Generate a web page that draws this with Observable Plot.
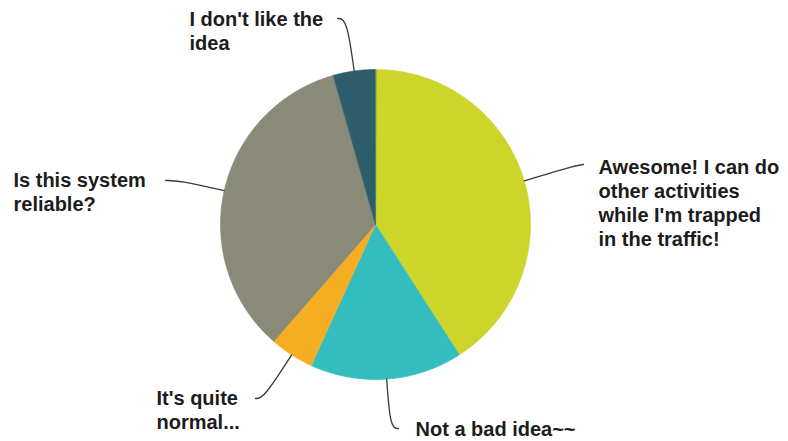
<!DOCTYPE html>
<html>
<head>
<meta charset="utf-8">
<script src="https://cdn.jsdelivr.net/npm/d3@7"></script>
<script src="https://cdn.jsdelivr.net/npm/@observablehq/plot@0.6"></script>
<style>
  html, body { margin: 0; padding: 0; background: #fff; }
  #chart svg { display: block; }
</style>
</head>
<body>
<div id="chart"></div>
<script>
// ---- data ----
const categories = [
  "Awesome! I can do other activities while I'm trapped in the traffic!",
  "Not a bad idea~~",
  "It's quite normal...",
  "Is this system reliable?",
  "I don't like the idea"
];
const values = [40.9, 15.9, 4.6, 34.2, 4.4];
const labelTexts = [
  "Awesome! I can do\nother activities\nwhile I'm trapped\nin the traffic!",
  "Not a bad idea~~",
  "It's quite\nnormal...",
  "Is this system\nreliable?",
  "I don't like the\nidea"
];
const colors = ["#cdd42a", "#33bdbf", "#f5ae21", "#8a8a78", "#2e5e6b"];

// ---- layout (pixels) ----
const W = 788, H = 441;
const cx = 375, cy = 224, R = 155;
const leaderEnds = [[583, 164], [398, 428], [255, 398], [165, 180], [337, 18]];
const textTopLeft = [[598, 156], [415, 418], [156, 387], [13, 169], [189, 8]];

const ux = p => (p - cx) / R;
const uy = p => (cy - p) / R;

// ---- slices from data ----
const total = d3.sum(values);
let acc = 0;
const slices = categories.map((c, i) => {
  const a0 = acc / total * 2 * Math.PI;
  acc += values[i];
  const a1 = acc / total * 2 * Math.PI;
  return {c, i, a0, a1};
});
const polyPts = [];
for (const s of slices) {
  polyPts.push({c: s.c, x: 0, y: 0});
  const n = Math.max(2, Math.ceil((s.a1 - s.a0) / (Math.PI / 360)));
  for (let k = 0; k <= n; k++) {
    const a = s.a0 + (s.a1 - s.a0) * k / n;
    polyPts.push({c: s.c, x: Math.sin(a), y: Math.cos(a)});
  }
}

// ---- leaders ----
const leaderPts = [];
slices.forEach((s, i) => {
  const am = (s.a0 + s.a1) / 2;
  const ex = Math.sin(am), ey = Math.cos(am);
  const [lx, ly] = leaderEnds[i];
  const Ex = ux(lx), Ey = uy(ly);
  const t = (Ey - ey) / ey;
  const kx = ex + ex * t;
  leaderPts.push({id: i, x: ex, y: ey});
  leaderPts.push({id: i, x: kx, y: Ey});
  leaderPts.push({id: i, x: Ex, y: Ey});
});

const labels = labelTexts.map((t, i) => ({t, x: ux(textTopLeft[i][0]), y: uy(textTopLeft[i][1])}));

const chart = Plot.plot({
  width: W,
  height: H,
  margin: 0,
  x: {domain: [-1, 1], range: [cx - R, cx + R], axis: null},
  y: {domain: [-1, 1], range: [cy + R, cy - R], axis: null},
  color: {domain: categories, range: colors},
  style: {background: "#fff", fontFamily: "'Liberation Sans', Arial, sans-serif"},
  marks: [
    Plot.line(polyPts, {x: "x", y: "y", z: "c", fill: "c", stroke: "c", strokeWidth: 0.6, curve: "linear-closed"}),
    Plot.line(leaderPts, {x: "x", y: "y", z: "id", curve: "basis", stroke: "#3a3a3a", strokeWidth: 1.3}),
    Plot.text(labels, {x: "x", y: "y", text: "t", textAnchor: "start", lineAnchor: "top", fontSize: 20, fontWeight: "bold", fill: "#1c1c1c", lineHeight: 1.2})
  ]
});
document.getElementById("chart").appendChild(chart);
</script>
</body>
</html>
